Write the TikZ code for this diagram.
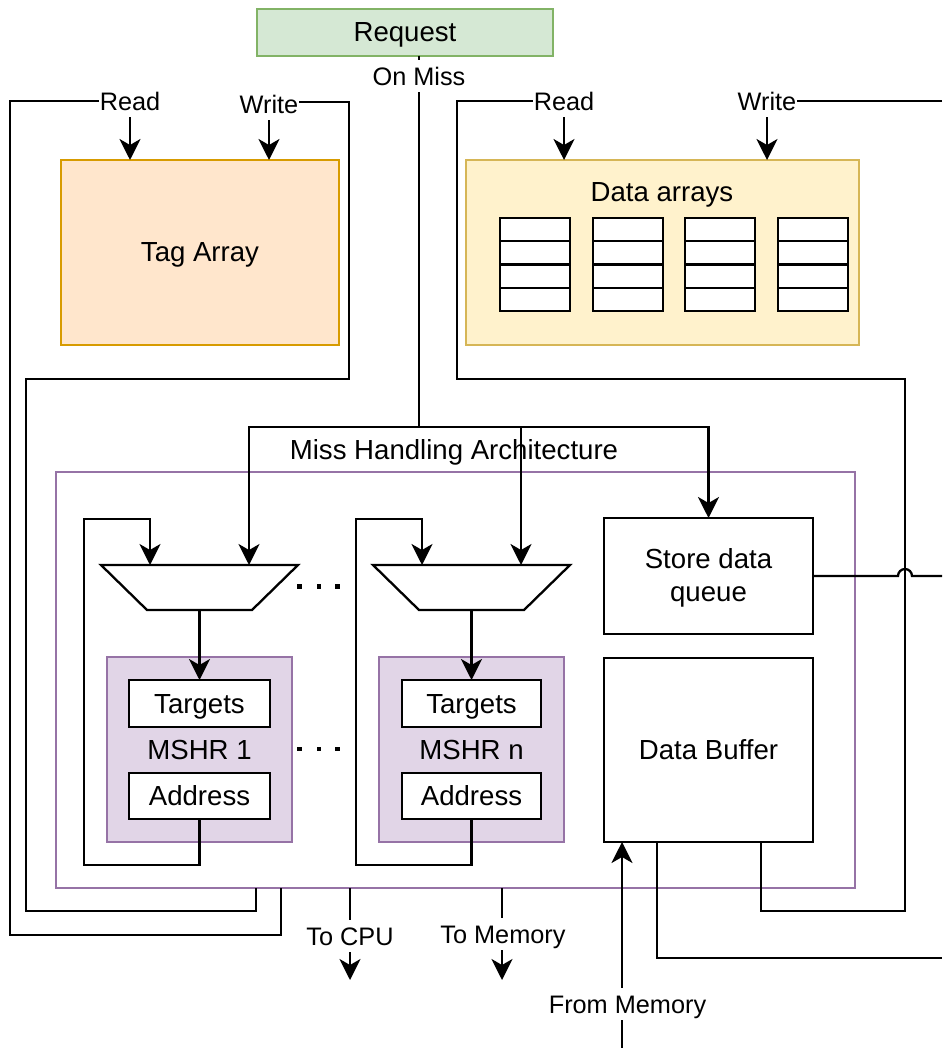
\documentclass[tikz,border=0pt]{standalone}
\usepackage{fontspec}
\setmainfont{Liberation Sans}
\usetikzlibrary{arrows.meta}
\definecolor{reqfill}{HTML}{D5E8D4}
\definecolor{reqdraw}{HTML}{82B366}
\definecolor{tagfill}{HTML}{FFE6CC}
\definecolor{tagdraw}{HTML}{D79B00}
\definecolor{datfill}{HTML}{FFF2CC}
\definecolor{datdraw}{HTML}{D6B656}
\definecolor{mshrfill}{HTML}{E1D5E7}
\definecolor{mshrdraw}{HTML}{9673A6}
\begin{document}
\begin{tikzpicture}[x=1pt,y=-1pt,
  every node/.style={inner sep=0pt, outer sep=0pt},
  main/.style={font=\fontsize{27.6pt}{33pt}\selectfont},
  txt/.style={main, text height=25pt, text depth=6pt},
  ln/.style={line width=2.3pt},
  arr/.style={ln, -{Stealth[length=21pt,width=21pt,inset=6pt]}},
  box/.style={draw, ln, fill=white, txt},
  lbl/.style={fill=white, inner xsep=1pt, inner ysep=1pt, font=\fontsize{25.3pt}{30pt}\selectfont, text height=24.5pt, text depth=5.5pt},
  cell/.style={draw, ln, fill=white, minimum width=70pt, minimum height=23.25pt},
]
\useasboundingbox (0,0) rectangle (942,1048);
\clip (0,0) rectangle (942,1048);

% ---------- top blocks ----------
\node[box, fill=reqfill, draw=reqdraw, minimum width=296pt, minimum height=47pt] (req) at (405,32.5) {Request};
\node[box, fill=tagfill, draw=tagdraw, minimum width=278pt, minimum height=185pt] (tag) at (200,252.5) {Tag Array};
\node[draw=datdraw, fill=datfill, ln, minimum width=393pt, minimum height=185pt] (data) at (662.5,252.5) {};
\node[txt] (dtitle) at (662,192) {Data arrays};
\foreach \cx [count=\i] in {500,593,685,778}{
  \foreach \r in {0,1,2,3}{
    \node[cell] (c\i\r) at ({\cx+35},{218+\r*23.25+11.625}) {};
  }
}

% ---------- miss handling architecture ----------
\node[draw=mshrdraw, ln, minimum width=799pt, minimum height=416pt] (mha) at (455.5,680) {};
\node[txt] (mhat) at (454,450) {Miss Handling Architecture};

% multiplexers
\draw[ln, fill=white] (101,565) -- (298,565) -- (252,610) -- (147,610) -- cycle;
\draw[ln, fill=white] (373,565) -- (570,565) -- (524,610) -- (419,610) -- cycle;
\coordinate (m1a) at (150,565); \coordinate (m1b) at (249,565); \coordinate (m1o) at (199.5,610);
\coordinate (mna) at (422,565); \coordinate (mnb) at (521,565); \coordinate (mno) at (471.5,610);

% MSHRs
\node[box, fill=mshrfill, draw=mshrdraw, minimum width=185pt, minimum height=185pt] (mshr1) at (199.5,749.5) {MSHR 1};
\node[box, minimum width=141pt, minimum height=47pt] (targ1) at (199.5,703.5) {Targets};
\node[box, minimum width=141pt, minimum height=46pt] (addr1) at (199.5,796) {Address};
\node[box, fill=mshrfill, draw=mshrdraw, minimum width=185pt, minimum height=185pt] (mshrn) at (471.5,749.5) {MSHR n};
\node[box, minimum width=139pt, minimum height=47pt] (targn) at (471.5,703.5) {Targets};
\node[box, minimum width=139pt, minimum height=46pt] (addrn) at (471.5,796) {Address};

% store data queue and data buffer
\node[draw, ln, fill=white, main, align=center, minimum width=209pt, minimum height=116pt] (sdq) at (708.5,576) {\rule{0pt}{24pt}Store data\\queue};
\node[box, minimum width=209pt, minimum height=184pt] (dbuf) at (708.5,750) {Data Buffer};

% dots
\foreach \dx in {297,316.5,335}{
  \fill (\dx,584) rectangle ++(4.5,4.5);
  \fill (\dx,746.5) rectangle ++(4.5,4.5);
}

% ---------- connectors ----------
\coordinate (reqo) at (419,56);
\draw[arr] (reqo) -- (419,427) -| (m1b);
\draw[arr] (reqo) -- (419,427) -| (mnb);
\draw[arr] (reqo) -- (419,427) -| (sdq.north);
\node[lbl] (onmiss) at (419,76) {On Miss};

\draw[arr] (m1o) -- (targ1.north);
\draw[arr] (addr1.south) -- (199.5,865) -| (84,519) -| (m1a);
\draw[arr] (mno) -- (targn.north);
\draw[arr] (addrn.south) -- (471.5,865) -| (356,519) -| (mna);

% tag array read / write
\coordinate (mhaA) at (281,888); \coordinate (tagR) at (130,160);
\draw[arr] (mhaA) -- (281,935) -| (10,101) -| (tagR);
\node[lbl] (rdT) at (130,101) {Read};
\coordinate (mhaB) at (256,888); \coordinate (tagW) at (269,160);
\draw[arr] (mhaB) -- (256,911) -| (26,379) -| (349,102) -| (tagW);
\node[lbl] (wrT) at (269,104) {Write};

% data array read / write
\coordinate (dbA) at (761,842); \coordinate (datR) at (564,160);
\draw[arr] (dbA) -- (761,911) -| (905,379) -| (457,101) -| (datR);
\node[lbl] (rdD) at (564,101) {Read};
\coordinate (offW) at (942,101); \coordinate (datW) at (767,160);
\draw[arr] (offW) -| (datW);
\node[lbl] (wrD) at (767,101) {Write};

% store data queue out (with line hop)
\coordinate (offS) at (942,576);
\draw[ln] (sdq.east) -- (898,576) arc[start angle=180, end angle=0, radius=7pt] -- (offS);

% data buffer out
\coordinate (dbB) at (657,842); \coordinate (offB) at (942,958);
\draw[ln] (dbB) |- (offB);

% from memory
\coordinate (fmS) at (622,1048); \coordinate (dbC) at (622,842);
\draw[arr] (fmS) -- (dbC);
\node[lbl] (frmem) at (627.5,1004) {From Memory};

% to CPU / to memory
\coordinate (cpuS) at (350,888); \coordinate (cpuE) at (350,980);
\draw[arr] (cpuS) -- (cpuE);
\node[lbl] (tocpu) at (350,936) {To CPU};
\coordinate (memS) at (502,888); \coordinate (memE) at (502,980);
\draw[arr] (memS) -- (memE);
\node[lbl] (tomem) at (503,934) {To Memory};
\end{tikzpicture}
\end{document}
